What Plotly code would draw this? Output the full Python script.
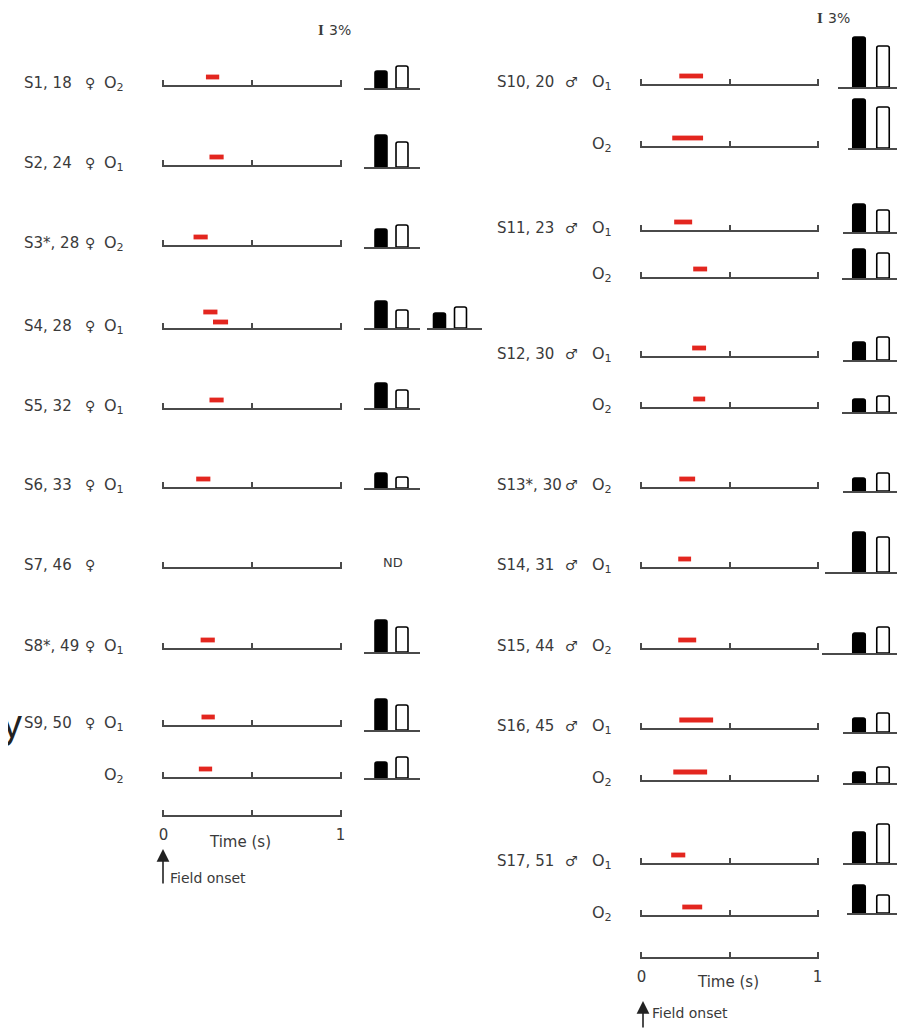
import plotly.graph_objects as go

# the page body has an 8px margin, so the figure is sized to fill the rest of the window
OX, OY = 8, 8
W, H = 905 - OX, 1029 - OY

# ---------------- data ----------------
# left column: female subjects
left_names = ["S1, 18", "S2, 24", "S3*, 28", "S4, 28", "S5, 32", "S6, 33", "S7, 46", "S8*, 49", "S9, 50", ""]
left_sex = ["♀", "♀", "♀", "♀", "♀", "♀", "♀", "♀", "♀", ""]
left_sites = ["O2", "O1", "O2", "O1", "O1", "O1", "", "O1", "O1", "O2"]
left_onsets = [[0.24], [0.26], [0.17], [0.225, 0.28], [0.26], [0.185], [], [0.21], [0.215], [0.20]]
left_offsets = [[0.315], [0.34], [0.25], [0.305, 0.365], [0.34], [0.265], [], [0.29], [0.29], [0.275]]
left_black = [5.1, 9.6, 5.4, 8.1, 7.5, 4.5, None, 9.6, 9.3, 4.8]
left_white = [6.6, 7.5, 6.6, 5.4, 5.4, 3.3, None, 7.5, 7.5, 6.3]
s4_extra_black = 4.5
s4_extra_white = 6.3
nd_text = "ND"

# right column: male subjects
right_names = ["S10, 20", "", "S11, 23", "", "S12, 30", "", "S13*, 30", "S14, 31", "S15, 44", "S16, 45", "", "S17, 51", ""]
right_sex = ["♂", "", "♂", "", "♂", "", "♂", "♂", "♂", "♂", "", "♂", ""]
right_sites = ["O1", "O2", "O1", "O2", "O1", "O2", "O2", "O1", "O2", "O1", "O2", "O1", "O2"]
right_onsets = [[0.215], [0.175], [0.186], [0.294], [0.288], [0.294], [0.215], [0.209], [0.209], [0.215], [0.181], [0.169], [0.232]]
right_offsets = [[0.350], [0.350], [0.288], [0.373], [0.367], [0.362], [0.305], [0.282], [0.311], [0.407], [0.373], [0.249], [0.345]]
right_black = [15.0, 14.7, 8.4, 8.7, 5.4, 3.9, 3.9, 12.0, 6.0, 4.2, 3.3, 9.3, 8.4]
right_white = [12.3, 12.3, 6.6, 7.5, 6.9, 4.8, 5.4, 10.5, 7.8, 5.7, 4.8, 11.7, 5.4]

time_ticks = [0, 0.5, 1]
time_labels = ["0", "", "1"]
scale_text = "3%"
time_title = "Time (s)"
onset_text = "Field onset"

# ---------------- layout (pixel positions in the window) ----------------
FONT = "DejaVu Sans"
TXT = "#3a3a3a"
AX = "#4a4a4a"
RED = "#e3261f"
BAR_YMAX = 16.0
PX_PER_PCT = 10.0 / 3.0
TL_H = 24.0          # timeline axis height (px); range [0, 3]
TPAD = 0.008         # small pad so that the end ticks at 0 and 1 are drawn

left_cfg = dict(
    tl_x=(162, 342),
    tl_base=[85, 165, 245, 328, 408, 487, 567, 648, 725, 777],
    bar_base=[88, 167, 247, 328, 408, 488, 562, 652, 730, 778],
    bar_x=[(364, 420)] * 10,
    black_c=381, pxu=21.0, bar_w=0.57,
    name_x=[22] * 10,
    sex_x=90, site_right=126,
    levels={3: [2.0, 0.75]},
    scale_y=815,
)
right_cfg = dict(
    tl_x=(640, 819),
    tl_base=[84, 146, 230, 277, 356, 407, 487, 567, 648, 728, 780, 863, 915],
    bar_base=[87, 148, 232, 278, 360, 412, 491, 572, 653, 732, 783, 863, 913],
    bar_x=[(s, 905) for s in [838, 848, 843, 842, 843, 842, 843, 825, 822, 843, 843, 843, 847]],
    black_c=859, pxu=24.0, bar_w=0.52,
    name_x=[495] * 13,
    sex_x=571, site_right=614,
    levels={},
    scale_y=957,
)

layout = dict(
    width=W, height=H, margin=dict(l=0, r=0, t=0, b=0),
    paper_bgcolor="white", plot_bgcolor="rgba(0,0,0,0)",
    showlegend=False, template="none",
)
traces = []
annotations = []
counter = [0]


def fx(p):
    return (p - OX) / W


def fy(p):
    return 1 - (p - OY) / H


def clamp(v):
    return max(0.0, min(1.0, v))


def new_axes(xdom_px, bottom_px, height_px, xopts, yopts):
    counter[0] += 1
    n = counter[0]
    s = "" if n == 1 else str(n)
    layout["xaxis" + s] = dict(domain=[clamp(fx(xdom_px[0])), clamp(fx(xdom_px[1]))],
                               anchor="y" + s, showgrid=False, zeroline=False,
                               fixedrange=True, **xopts)
    layout["yaxis" + s] = dict(domain=[clamp(fy(bottom_px)), clamp(fy(bottom_px - height_px))],
                               anchor="x" + s, showgrid=False, zeroline=False,
                               fixedrange=True, **yopts)
    # an empty trace so that the subplot (and its axis line) is always drawn
    traces.append(go.Scatter(x=[], y=[], mode="none", xaxis="x" + s, yaxis="y" + s,
                             hoverinfo="skip"))
    return "x" + s, "y" + s


def timeline_axes(cfg, base):
    return new_axes(cfg["tl_x"], base, TL_H,
                    dict(range=[-TPAD, 1 + TPAD], showline=True, linecolor=AX, linewidth=2,
                         ticks="inside", tickvals=time_ticks, ticklen=5, tickwidth=1.5,
                         tickcolor=AX, showticklabels=False),
                    dict(range=[0, 3], visible=False))


def bar_axes(cfg, xdom, base, black_c):
    r = [-(black_c - xdom[0]) / cfg["pxu"], (xdom[1] - black_c) / cfg["pxu"]]
    return new_axes(xdom, base, BAR_YMAX * PX_PER_PCT,
                    dict(range=r, showline=True, linecolor=AX, linewidth=1.5,
                         ticks="", showticklabels=False),
                    dict(range=[0, BAR_YMAX], visible=False))


def add_bars(xa, ya, cfg, b, w):
    traces.append(go.Bar(
        x=[0, 1], y=[b, w], width=cfg["bar_w"], xaxis=xa, yaxis=ya,
        marker=dict(color=["black", "white"], line=dict(color="black", width=1.6),
                    cornerradius=2),
        hoverinfo="skip"))


def text(x_px, y_px, s, size=15, xanchor="left", family=FONT, color=TXT):
    annotations.append(dict(x=fx(x_px), y=fy(y_px), xref="paper", yref="paper",
                            text=s, showarrow=False, xanchor=xanchor, yanchor="middle",
                            font=dict(family=family, size=size, color=color)))


def site_html(s):
    return "O<sub>%s</sub>" % s[1:] if s else ""


def build(cfg, names, sexes, sites, onsets, offsets, blacks, whites):
    for i in range(len(names)):
        base = cfg["tl_base"][i]
        xa, ya = timeline_axes(cfg, base)
        levels = cfg["levels"].get(i, [1.0] * len(onsets[i]))
        if onsets[i]:
            traces.append(go.Bar(
                orientation="h", y=levels, base=onsets[i],
                x=[off - on for on, off in zip(onsets[i], offsets[i])],
                width=0.6, marker=dict(color=RED, line=dict(width=0)),
                xaxis=xa, yaxis=ya, hoverinfo="skip"))
        # labels
        ly = base - 2
        if names[i]:
            text(cfg["name_x"][i], ly, names[i])
        if sexes[i]:
            text(cfg["sex_x"], ly, sexes[i], size=14, xanchor="center")
        if sites[i]:
            text(cfg["site_right"], ly, site_html(sites[i]), size=16, xanchor="right")
        # bars
        if blacks[i] is None:
            text(393, cfg["bar_base"][i], nd_text, size=13, xanchor="center")
        else:
            xb, yb = bar_axes(cfg, cfg["bar_x"][i], cfg["bar_base"][i], cfg["black_c"])
            add_bars(xb, yb, cfg, blacks[i], whites[i])
    # time scale
    new_axes(cfg["tl_x"], cfg["scale_y"], 10,
             dict(range=[-TPAD, 1 + TPAD], showline=True, linecolor=AX, linewidth=2,
                  ticks="inside", tickvals=time_ticks, ticktext=time_labels,
                  ticklen=5, tickwidth=1.5, tickcolor=AX, ticklabelstandoff=5,
                  tickfont=dict(family=FONT, size=15, color=TXT)),
             dict(range=[0, 1], visible=False))


build(left_cfg, left_names, left_sex, left_sites, left_onsets, left_offsets, left_black, left_white)
# S4 second pair of bars
xb, yb = bar_axes(left_cfg, (427, 482), 328, 439.5)
add_bars(xb, yb, left_cfg, s4_extra_black, s4_extra_white)

build(right_cfg, right_names, right_sex, right_sites, right_onsets, right_offsets, right_black, right_white)

# time axis captions and field-onset arrows
text(240, 842, time_title, xanchor="center")
text(168, 878, onset_text, size=14)
annotations.append(dict(x=fx(163), y=fy(849), xref="paper", yref="paper", text="",
                        showarrow=True, ax=0, ay=36, arrowhead=2, arrowsize=1.6,
                        arrowwidth=1.6, arrowcolor="#222"))
text(728, 982, time_title, xanchor="center")
text(650, 1013, onset_text, size=14)
annotations.append(dict(x=fx(643), y=fy(1001), xref="paper", yref="paper", text="",
                        showarrow=True, ax=0, ay=30, arrowhead=2, arrowsize=1.6,
                        arrowwidth=1.6, arrowcolor="#222"))

# 3% scale markers
text(321, 30, "<b>I</b>", size=15, xanchor="center", family="Liberation Serif")
text(327, 30, scale_text, size=14)
text(820, 18, "<b>I</b>", size=15, xanchor="center", family="Liberation Serif")
text(826, 18, scale_text, size=14)

# large letter at the left edge (only its right part shows in the original)
text(24, 724, "y", size=40, xanchor="right", family="Liberation Sans", color="#222")

layout["annotations"] = annotations
fig = go.Figure(data=traces, layout=layout)
fig.write_html("out.html")
